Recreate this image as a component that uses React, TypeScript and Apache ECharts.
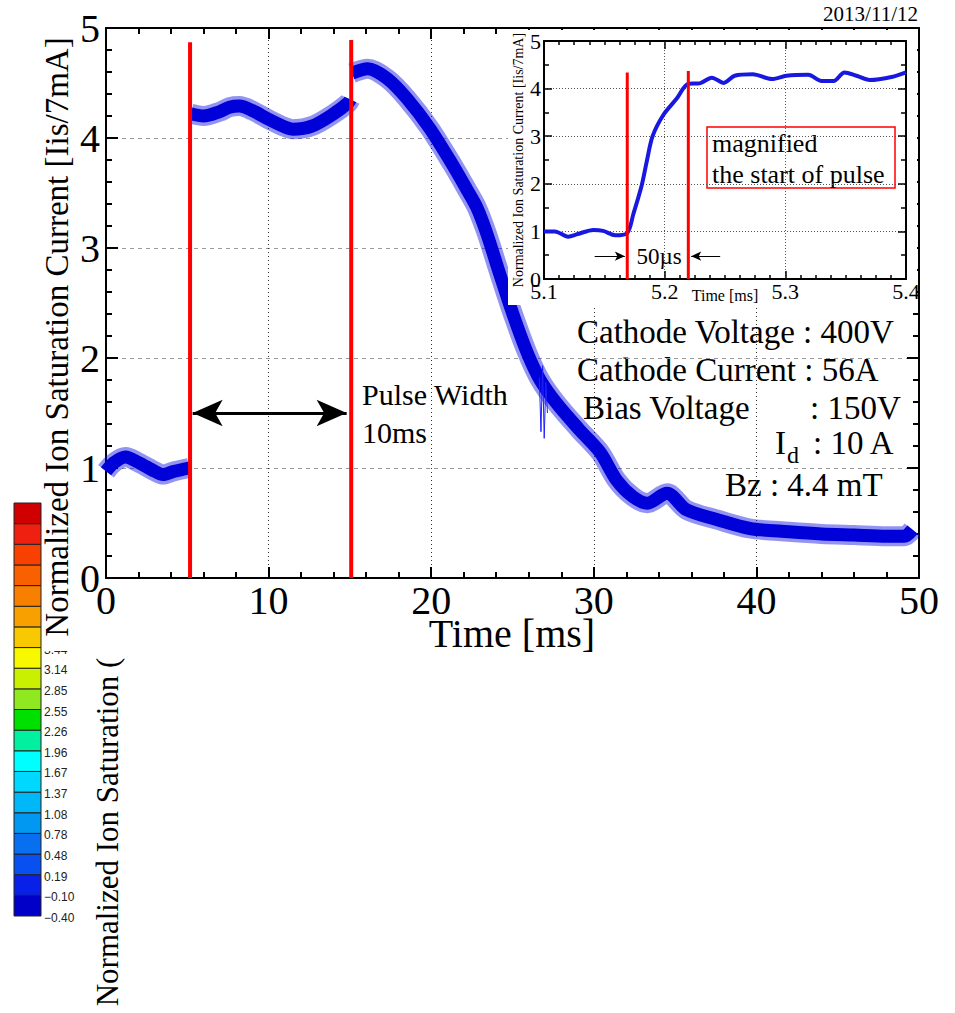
import React, { useEffect, useRef } from 'react';
import * as echarts from 'echarts';

// ---------- main plot data (Time [ms] -> normalized Iis) ----------
const preTime = [0, 0.5, 1.2, 2, 3, 3.5, 4.2, 5.12];
const preVal = [0.97, 1.05, 1.1, 1.05, 0.97, 0.94, 0.97, 1.0];
const pulseTime = [5.22, 6, 7, 7.6, 8.2, 9, 10, 11, 11.5, 12.7, 14, 14.9, 15.03];
const pulseVal = [4.22, 4.2, 4.24, 4.28, 4.29, 4.25, 4.17, 4.1, 4.08, 4.11, 4.22, 4.32, 4.35];
const postTime = [15.13, 16.1, 17.3, 18.5, 19.9, 21.3, 22.2, 22.8, 23.4, 24.2, 25.0, 25.9, 26.7, 27.7, 29.1, 30.4, 31.4, 32.4, 33.3, 34.5, 35.7, 37.6, 39.6, 42, 44, 46, 48, 49.1, 49.6];
const postVal = [4.59, 4.63, 4.54, 4.36, 4.09, 3.76, 3.53, 3.37, 3.14, 2.77, 2.41, 2.05, 1.8, 1.59, 1.35, 1.14, 0.89, 0.74, 0.68, 0.77, 0.62, 0.53, 0.45, 0.42, 0.4, 0.39, 0.38, 0.38, 0.44];
const spikeTime = [26.65, 26.75, 26.85, 26.95, 27.05, 27.15];
const spikeVal = [1.82, 1.33, 1.93, 1.27, 1.78, 1.5];
const redX = [5.17, 15.08];
const redTop = [4.87, 4.89];
const pulseArrowX = [5.33, 14.8];
const pulseArrowY = 1.5;

// ---------- inset data (Time [ms] 5.1-5.4) ----------
const insetTime = [5.1, 5.109, 5.12, 5.128, 5.141, 5.149, 5.159, 5.169, 5.174, 5.181, 5.185, 5.19, 5.199, 5.21, 5.2196, 5.229, 5.239, 5.249, 5.258, 5.273, 5.289, 5.301, 5.319, 5.33, 5.34, 5.349, 5.359, 5.37, 5.389, 5.4];
const insetVal = [1.0, 1.0, 0.89, 0.945, 1.03, 1.01, 0.92, 0.966, 1.36, 1.97, 2.45, 3.0, 3.45, 3.79, 4.1, 4.11, 4.23, 4.12, 4.27, 4.3, 4.2, 4.27, 4.29, 4.16, 4.16, 4.34, 4.27, 4.18, 4.25, 4.34];
const insetRedX = [5.169, 5.2196];
const insetRedTop = [4.34, 4.37];
const usArrowLeft = [5.142, 5.167];
const usArrowRight = [5.246, 5.222];
const usArrowY = 0.48;

// ---------- colour bar ----------
const cbLabels = ['\u22120.40', '\u22120.10', '0.19', '0.48', '0.78', '1.08', '1.37', '1.67', '1.96', '2.26', '2.55', '2.85', '3.14', '3.44'];
const cbColors = ['#0000c8', '#0820e8', '#0850f0', '#0870f0', '#0098f0', '#00b8f8', '#00d8ff', '#00ffff', '#00f0a0', '#00e000', '#90e820', '#c8f000', '#f8f800', '#f8c800', '#f8a000', '#f88000', '#f86000', '#f84000', '#f02010', '#d00000'];

const SERIF = '"Liberation Serif", "Times New Roman", serif';
const zip = (a: number[], b: number[]) => a.map((v, i) => [v, b[i]]);

function txt(text: string, x: number, y: number, size: number, align = 'left', extra: any = {}) {
  return {
    type: 'text', x, y, ...extra,
    style: { text, font: `${size}px ${SERIF}`, fill: '#000', textAlign: align, textVerticalAlign: 'middle', align, verticalAlign: 'middle' },
  };
}

function buildMain() {
  const band = [zip(preTime, preVal), zip(pulseTime, pulseVal), zip(postTime, postVal)];
  const series: any[] = [];
  band.forEach((d) => {
    series.push({ type: 'line', data: d, showSymbol: false, smooth: 0.3, silent: true, z: 2,
      lineStyle: { color: '#1010e0', width: 20, opacity: 0.45 } });
    series.push({ type: 'line', data: d, showSymbol: false, smooth: 0.3, silent: true, z: 3,
      lineStyle: { color: '#0000d8', width: 13 } });
  });
  series.push({ type: 'line', data: zip(spikeTime, spikeVal), showSymbol: false, silent: true, z: 3,
    lineStyle: { color: '#2020ff', width: 1 },
    markLine: { silent: true, symbol: ['arrow', 'arrow'], symbolSize: [20, 30],
      lineStyle: { color: '#000', width: 3, type: 'solid' }, label: { show: false },
      data: [[{ coord: [pulseArrowX[0], pulseArrowY] }, { coord: [pulseArrowX[1], pulseArrowY] }]] } });
  redX.forEach((x, i) => {
    series.push({ type: 'line', data: [[x, 0], [x, redTop[i]]], showSymbol: false, silent: true, z: 5,
      lineStyle: { color: '#ff0000', width: 4 } });
  });

  const tickStyle = { color: '#000', width: 2 };
  const xBase = { type: 'value', min: 0, max: 50, interval: 10, gridIndex: 0 };
  const yBase = { type: 'value', min: 0, max: 5, interval: 1, gridIndex: 0 };

  const cbTop = 503, cbBottom = 916, cbLeft = 14, cbW = 27;
  const cellH = (cbBottom - cbTop) / cbColors.length;
  const graphic: any[] = [];
  cbColors.forEach((c, i) => graphic.push({ type: 'rect', shape: { x: cbLeft, y: cbBottom - (i + 1) * cellH, width: cbW, height: cellH },
    style: { fill: c, stroke: '#222', lineWidth: 1 } }));
  cbLabels.forEach((l, i) => graphic.push({ type: 'text', x: 44, y: cbBottom - i * cellH + 2,
    style: { text: l, font: '12px "Liberation Sans", Arial, sans-serif', fill: '#222', textAlign: 'left', textVerticalAlign: 'middle', align: 'left', verticalAlign: 'middle' } }));
  graphic.push({ type: 'rect', shape: { x: 42, y: 0, width: 37, height: 651 }, style: { fill: '#fff' } });
  graphic.push(txt('Normalized Ion Saturation Current [Iis/7mA]', 57, 337, 33, 'center', { rotation: Math.PI / 2 }));
  graphic.push(txt('Normalized Ion Saturation (', 107, 832, 31, 'center', { rotation: Math.PI / 2 }));
  graphic.push(txt('Time [ms]', 512, 633, 40, 'center'));
  graphic.push(txt('2013/11/12', 918, 14, 21, 'right'));
  graphic.push(txt('Pulse Width', 362, 394, 30));
  graphic.push(txt('10ms', 362, 432, 30));
  graphic.push(txt('Cathode Voltage : 400V', 577, 332, 33));
  graphic.push(txt('Cathode Current : 56A', 577, 370, 33));
  graphic.push(txt('Bias Voltage', 583, 408, 33));
  graphic.push(txt(': 150V', 810, 408, 33));
  graphic.push(txt('I', 775, 443, 33));
  graphic.push(txt('d', 787, 455, 24));
  graphic.push(txt(': 10 A', 813, 443, 33));
  graphic.push(txt('Bz : 4.4 mT', 725, 485, 33));

  return {
    animation: false,
    backgroundColor: '#fff',
    grid: { left: 106, right: 36, top: 28, bottom: 435, containLabel: false },
    xAxis: [
      { ...xBase, position: 'bottom',
        axisLine: { show: true, onZero: false, lineStyle: tickStyle },
        axisTick: { show: true, inside: true, length: 11, lineStyle: tickStyle },
        minorTick: { show: true, splitNumber: 5, length: 6, lineStyle: tickStyle },
        axisLabel: { color: '#000', fontFamily: SERIF, fontSize: 40, margin: 2 },
        splitLine: { show: true, lineStyle: { color: '#333', type: [1, 3], width: 1 } } },
      { ...xBase, position: 'top',
        axisLine: { show: true, onZero: false, lineStyle: tickStyle },
        axisTick: { show: true, inside: true, length: 11, lineStyle: tickStyle },
        minorTick: { show: true, splitNumber: 5, length: 6, lineStyle: tickStyle },
        axisLabel: { show: false }, splitLine: { show: false } },
    ],
    yAxis: [
      { ...yBase, position: 'left',
        axisLine: { show: true, onZero: false, lineStyle: tickStyle },
        axisTick: { show: true, inside: true, length: 12, lineStyle: tickStyle },
        minorTick: { show: true, splitNumber: 5, length: 6, lineStyle: tickStyle },
        axisLabel: { color: '#000', fontFamily: SERIF, fontSize: 40, margin: 6 },
        splitLine: { show: true, lineStyle: { color: '#999', type: [4, 4], width: 1 } } },
      { ...yBase, position: 'right',
        axisLine: { show: true, onZero: false, lineStyle: tickStyle },
        axisTick: { show: true, inside: true, length: 12, lineStyle: tickStyle },
        minorTick: { show: true, splitNumber: 5, length: 6, lineStyle: tickStyle },
        axisLabel: { show: false }, splitLine: { show: false } },
    ],
    series,
    graphic: { elements: graphic },
  };
}

function buildInset() {
  const series: any[] = [
    { type: 'line', data: zip(insetTime, insetVal), showSymbol: false, smooth: 0.3, silent: true, z: 3,
      lineStyle: { color: '#1818e0', width: 4 },
      markLine: { silent: true, symbol: ['none', 'arrow'], symbolSize: [7, 10],
        lineStyle: { color: '#000', width: 1, type: 'solid' }, label: { show: false },
        data: [
          [{ coord: [usArrowLeft[0], usArrowY] }, { coord: [usArrowLeft[1], usArrowY] }],
          [{ coord: [usArrowRight[0], usArrowY] }, { coord: [usArrowRight[1], usArrowY] }],
        ] } },
  ];
  insetRedX.forEach((x, i) => series.push({ type: 'line', data: [[x, 0], [x, insetRedTop[i]]], showSymbol: false, silent: true, z: 5,
    lineStyle: { color: '#ff0000', width: 3 } }));

  const ts = { color: '#000', width: 1.5 };
  const xBase = { type: 'value', min: 5.1, max: 5.4, interval: 0.1 };
  const yBase = { type: 'value', min: 0, max: 5, interval: 1 };
  const graphic: any[] = [
    { type: 'rect', shape: { x: 199, y: 97, width: 188, height: 61 }, style: { fill: '#fff', stroke: '#ff0000', lineWidth: 1.5 } },
    txt('magnified', 204, 113, 26),
    txt('the start of pulse', 204, 144, 26),
    txt('50\u00b5s', 151, 226, 23, 'center'),
    txt('Normalized Ion Saturation Current [Iis/7mA]', 10, 130, 14, 'center', { rotation: Math.PI / 2 }),
    txt('Time [ms]', 217, 265, 16, 'center'),
  ];
  return {
    animation: false,
    backgroundColor: 'transparent',
    grid: { left: 36, right: 22, top: 6, bottom: 26, containLabel: false },
    xAxis: [
      { ...xBase, position: 'bottom',
        axisLine: { show: true, onZero: false, lineStyle: { color: '#000', width: 2 } },
        axisTick: { show: true, inside: true, length: 8, lineStyle: ts },
        minorTick: { show: true, splitNumber: 8, length: 4, lineStyle: ts },
        axisLabel: { color: '#000', fontFamily: SERIF, fontSize: 22, margin: 1,
          formatter: (v: number) => v.toFixed(1) },
        splitLine: { show: true, lineStyle: { color: '#555', type: [1, 2], width: 1 } } },
      { ...xBase, position: 'top',
        axisLine: { show: true, onZero: false, lineStyle: { color: '#000', width: 2 } },
        axisTick: { show: true, inside: true, length: 8, lineStyle: ts },
        minorTick: { show: true, splitNumber: 8, length: 4, lineStyle: ts },
        axisLabel: { show: false }, splitLine: { show: false } },
    ],
    yAxis: [
      { ...yBase, position: 'left',
        axisLine: { show: true, onZero: false, lineStyle: { color: '#000', width: 2 } },
        axisTick: { show: true, inside: true, length: 8, lineStyle: ts },
        minorTick: { show: true, splitNumber: 2, length: 5, lineStyle: ts },
        axisLabel: { color: '#000', fontFamily: SERIF, fontSize: 22, margin: 3 },
        splitLine: { show: true, lineStyle: { color: '#555', type: [1, 2], width: 1 } } },
      { ...yBase, position: 'right',
        axisLine: { show: true, onZero: false, lineStyle: { color: '#000', width: 2 } },
        axisTick: { show: true, inside: true, length: 8, lineStyle: ts },
        minorTick: { show: true, splitNumber: 2, length: 5, lineStyle: ts },
        axisLabel: { show: false }, splitLine: { show: false } },
    ],
    series,
    graphic: { elements: graphic },
  };
}

export default function App() {
  const mainRef = useRef<HTMLDivElement>(null);
  const insetRef = useRef<HTMLDivElement>(null);
  useEffect(() => {
    const c1 = echarts.init(mainRef.current!, null, { renderer: 'svg' });
    c1.setOption(buildMain() as any);
    const c2 = echarts.init(insetRef.current!, null, { renderer: 'svg' });
    c2.setOption(buildInset() as any);
    return () => { c1.dispose(); c2.dispose(); };
  }, []);
  return (
    <div style={{ position: 'absolute', left: 0, top: 0, width: 955, height: 1013 }}>
      <div ref={mainRef} style={{ position: 'absolute', left: 0, top: 0, width: 955, height: 1013 }} />
      <div style={{ position: 'absolute', left: 508, top: 30, width: 409, height: 275, background: '#fff' }} />
      <div ref={insetRef} style={{ position: 'absolute', left: 508, top: 30, width: 420, height: 275 }} />
    </div>
  );
}
